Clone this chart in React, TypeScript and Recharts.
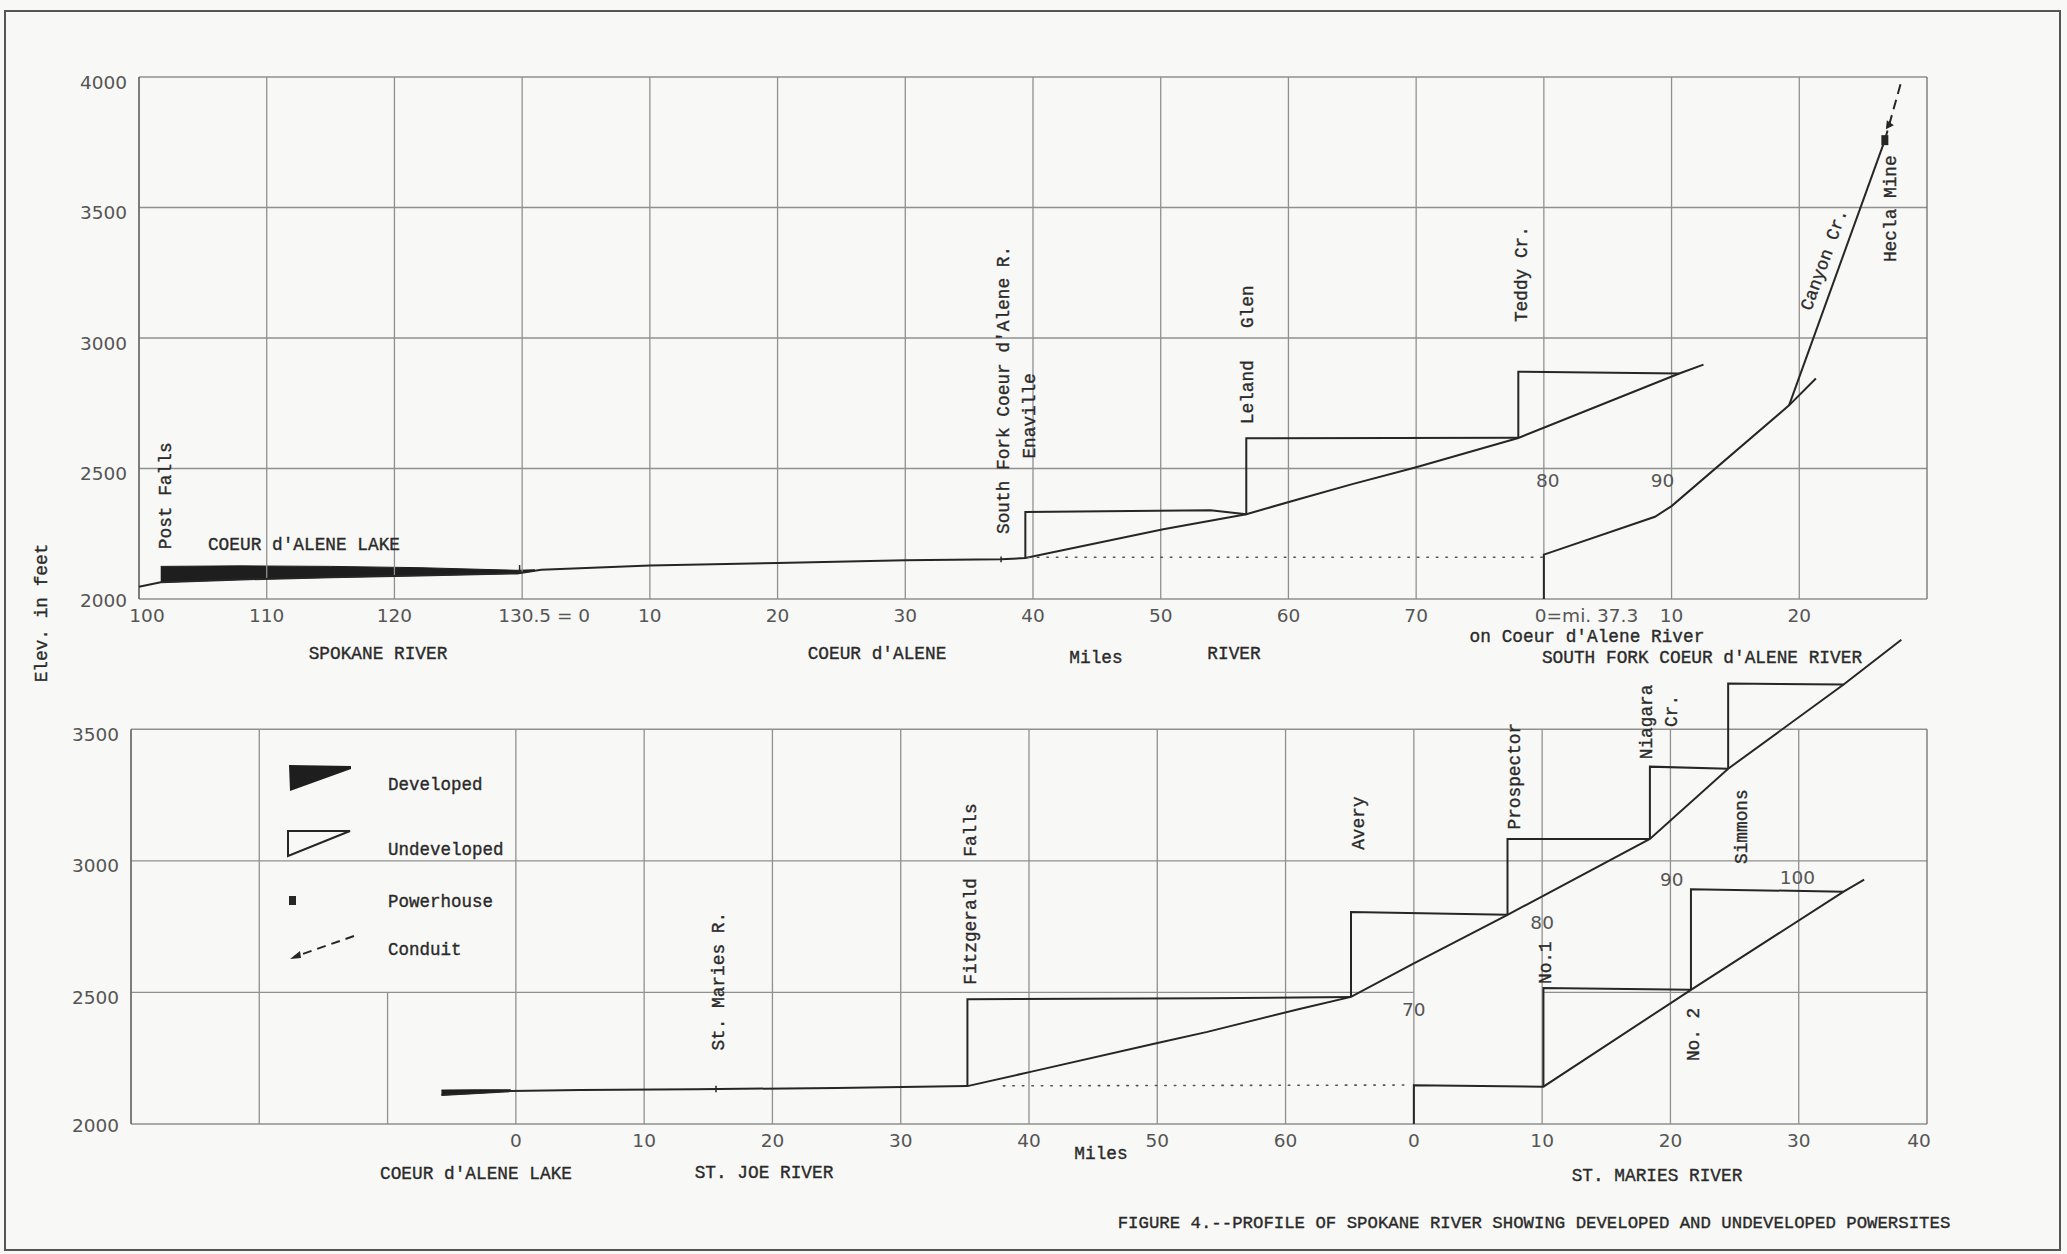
import React from 'react';
import { Area, ComposedChart, Legend, Line, ReferenceDot, ReferenceLine, Scatter, XAxis, YAxis } from 'recharts';

const MONO = '"Liberation Mono", "DejaVu Sans Mono", monospace';
const LETTER = '"DejaVu Sans", "Open Sans", sans-serif';
const INK = '#262626';
const TEXT = '#2a2a2a';
const GRID = '#909090';
const NUM = '#555';

// x = chart position in tenths of a grid square (one square = 10 miles), y = elevation in feet

// upper panel: Spokane R. mi 100-130.5, Coeur d'Alene R. from the lake, South Fork from mi 37.3
const topXTicks = [0, 10, 20, 30, 40, 50, 60, 70, 80, 90, 100, 110, 120, 130];
const topXLabels = ['100', '110', '120', '130.5 = 0', '10', '20', '30', '40', '50', '60', '70', '0=mi. 37.3', '10', '20'];
const topYTicks = [2000, 2500, 3000, 3500, 4000];
const topGridX = [0, 10, 20, 30, 40, 50, 60, 70, 80, 90, 100, 110, 120, 130, 140];

const spokaneBed = [
  { x: 0, y: 2047 }, { x: 1.7, y: 2064 }, { x: 8, y: 2075 }, { x: 15, y: 2083 }, { x: 22, y: 2090 },
  { x: 29.6, y: 2098 }, { x: 31.5, y: 2112 }, { x: 40, y: 2128 }, { x: 50, y: 2138 }, { x: 60, y: 2148 },
  { x: 67.5, y: 2152 }, { x: 69.4, y: 2157 }, { x: 80.2, y: 2267 }, { x: 86.7, y: 2325 }, { x: 91, y: 2385 },
  { x: 95, y: 2440 }, { x: 100, y: 2505 }, { x: 108, y: 2617 }, { x: 120.6, y: 2864 }, { x: 122.5, y: 2898 },
];
const postFallsPool = [
  { x: 1.7, r: [2064, 2125] }, { x: 8, r: [2075, 2127] }, { x: 15, r: [2083, 2125] },
  { x: 22, r: [2090, 2120] }, { x: 29.6, r: [2098, 2110] }, { x: 31, r: [2108, 2112] },
];
const enavillePool = [{ x: 69.4, y: 2157 }, { x: 69.4, y: 2333 }, { x: 83.9, y: 2340 }, { x: 86.7, y: 2325 }];
const lelandGlenPool = [{ x: 86.7, y: 2325 }, { x: 86.7, y: 2616 }, { x: 108, y: 2618 }];
const teddyCrPool = [{ x: 108, y: 2617 }, { x: 108, y: 2871 }, { x: 120.6, y: 2864 }];
const southForkBed = [
  { x: 110, y: 2000 }, { x: 110, y: 2170 }, { x: 118.7, y: 2315 }, { x: 120, y: 2356 },
  { x: 129.2, y: 2742 }, { x: 131.3, y: 2845 },
];
const canyonCr = [{ x: 129.2, y: 2742 }, { x: 136.7, y: 3758 }];
const heclaConduit = [{ x: 136.7, y: 3758 }, { x: 138, y: 3985 }];
const heclaPowerhouse = [{ x: 136.7, y: 3758 }];
const southForkDatum = [{ x: 69.6, y: 2160 }, { x: 110, y: 2160 }];

const topSites = [
  { t: 'Post Falls', x: 2.1, y: 2191 },
  { t: "South Fork Coeur d'Alene R.", x: 67.7, y: 2249 },
  { t: 'Enaville', x: 69.8, y: 2538 },
  { t: 'Leland   Glen', x: 86.8, y: 2670 },
  { t: 'Teddy Cr.', x: 108.3, y: 3061 },
  { t: 'Hecla Mine', x: 137.2, y: 3291 },
];
const topInnerMiles = [{ t: '80', x: 110.3, y: 2455 }, { t: '90', x: 119.3, y: 2455 }];

// lower panel: Coeur d'Alene Lake, St. Joe R., St. Maries R.
const bottomXTicks = [30, 40, 50, 60, 70, 80, 90, 100, 110, 120, 130, 140];
const bottomXLabels = ['0', '10', '20', '30', '40', '50', '60', '0', '10', '20', '30', '40'];
const bottomYTicks = [2000, 2500, 3000, 3500];
const bottomGridX = [0, 10, 30, 40, 50, 60, 70, 80, 90, 100, 110, 120, 130, 140];

const stJoeBed = [
  { x: 24.2, y: 2110 }, { x: 29.6, y: 2125 }, { x: 35, y: 2129 }, { x: 44, y: 2132 }, { x: 55, y: 2137 },
  { x: 65.2, y: 2144 }, { x: 70.2, y: 2199 }, { x: 80.1, y: 2309 }, { x: 83.9, y: 2350 }, { x: 91, y: 2436 },
  { x: 95.1, y: 2483 }, { x: 100, y: 2610 }, { x: 107.3, y: 2795 }, { x: 118.4, y: 3083 }, { x: 124.5, y: 3350 },
  { x: 133.5, y: 3670 }, { x: 138, y: 3840 },
];
const lakePool = [{ x: 24.2, r: [2110, 2129] }, { x: 27, r: [2117, 2130] }, { x: 29.6, r: [2125, 2130] }];
const fitzgeraldPool = [{ x: 65.2, y: 2144 }, { x: 65.2, y: 2474 }, { x: 84, y: 2478 }, { x: 95.1, y: 2483 }];
const averyPool = [{ x: 95.1, y: 2483 }, { x: 95.1, y: 2806 }, { x: 107.3, y: 2795 }];
const prospectorPool = [{ x: 107.3, y: 2795 }, { x: 107.3, y: 3083 }, { x: 118.4, y: 3083 }];
const niagaraPool = [{ x: 118.4, y: 3083 }, { x: 118.4, y: 3358 }, { x: 124.5, y: 3350 }];
const simmonsPool = [{ x: 124.5, y: 3350 }, { x: 124.5, y: 3674 }, { x: 133.5, y: 3670 }];
const stMariesBed = [
  { x: 100, y: 2000 }, { x: 100, y: 2147 }, { x: 110.1, y: 2142 }, { x: 121.6, y: 2510 },
  { x: 133.5, y: 2883 }, { x: 135.1, y: 2929 },
];
const no1Pool = [{ x: 110.1, y: 2142 }, { x: 110.1, y: 2517 }, { x: 121.6, y: 2510 }];
const no2Pool = [{ x: 121.6, y: 2510 }, { x: 121.6, y: 2892 }, { x: 133.5, y: 2883 }];
const stMariesDatum = [{ x: 68, y: 2145 }, { x: 99.5, y: 2148 }];

const bottomSites = [
  { t: 'St. Maries R.', x: 45.8, y: 2279 },
  { t: 'Fitzgerald  Falls', x: 65.5, y: 2529 },
  { t: 'Avery', x: 95.7, y: 3042 },
  { t: 'Prospector', x: 107.9, y: 3119 },
  { t: 'Niagara', x: 118.2, y: 3386 },
  { t: 'Cr.', x: 120.1, y: 3509 },
  { t: 'Simmons', x: 125.6, y: 2988 },
  { t: 'No.1', x: 110.3, y: 2532 },
  { t: 'No. 2', x: 121.8, y: 2239 },
];
const bottomInnerMiles = [
  { t: '70', x: 100, y: 2435 }, { t: '80', x: 110, y: 2764 },
  { t: '90', x: 120.1, y: 2929 }, { t: '100', x: 129.9, y: 2937 },
];

const lineProps = { type: 'linear' as const, dataKey: 'y', stroke: INK, strokeWidth: 2, dot: false, activeDot: false, isAnimationActive: false };

const SiteText = ({ cx, cy, text, angle = -90, anchor = 'start' }: any) => (
  <text x={cx} y={cy} transform={`rotate(${angle} ${cx} ${cy})`} textAnchor={anchor} dominantBaseline="central"
    fontFamily={MONO} fontSize={17.8} fill={TEXT} stroke={TEXT} strokeWidth={0.35} style={{ whiteSpace: 'pre' }}>
    {text}
  </text>
);

const MileText = ({ cx, cy, text }: any) => (
  <text x={cx} y={cy} textAnchor="middle" dominantBaseline="central" fontFamily={LETTER} fontSize={18.5} fill={NUM}>
    {text}
  </text>
);

const makeXTick = (ticks: number[], labels: string[], firstShift = 0) => (props: any) => {
  const { x, y, payload } = props;
  const label = labels[ticks.indexOf(payload.value)] ?? '';
  let anchor = 'middle';
  let dx = 0;
  if (payload.value === ticks[0]) dx = firstShift;
  if (label === '130.5 = 0') { anchor = 'start'; dx = -24; }
  if (label === '0=mi. 37.3') { anchor = 'start'; dx = -9; }
  if (payload.value === 140) dx = -8;
  return (
    <text x={x + dx} y={y + 16} textAnchor={anchor} dominantBaseline="central" fontFamily={LETTER} fontSize={18.5} fill={NUM}>
      {label}
    </text>
  );
};

const YTick = (props: any) => (
  <text x={props.x} y={props.y + (props.payload.value === 2000 ? 1 : 5)} textAnchor="end" dominantBaseline="central"
    fontFamily={LETTER} fontSize={18.5} fill={NUM}>
    {props.payload.value}
  </text>
);

const PowerhouseShape = (p: any) => (
  <g>
    <rect x={p.cx - 3.5} y={p.cy - 5} width={7} height={10} fill={INK} />
    <path d={`M ${p.cx + 2} ${p.cy - 20} L ${p.cx + 9} ${p.cy - 15} L ${p.cx + 1} ${p.cy - 11} Z`} fill={INK} />
  </g>
);

const LegendBox = () => (
  <div style={{ position: 'relative', width: 260, height: 220 }}>
    <svg width={260} height={220} style={{ position: 'absolute', left: 0, top: 0 }}>
      <polygon points="9,10 71,11 71,14 10,36" fill="#1e1e1e" />
      <polygon points="8,76 70,76 8,101" fill="none" stroke={INK} strokeWidth={2} />
      <rect x={9} y={141} width={7} height={9} fill={INK} />
      <line x1={74} y1={181} x2={14} y2={202} stroke={INK} strokeWidth={2} strokeDasharray="9 6" />
      <path d="M 10 204 L 20 196 L 21 203 Z" fill={INK} />
      {[['Developed', 30], ['Undeveloped', 95], ['Powerhouse', 147], ['Conduit', 195]].map(([t, y]) => (
        <text key={t as string} x={108} y={y as number} dominantBaseline="central" fontFamily={MONO} fontSize={17.5}
          fill={TEXT} stroke={TEXT} strokeWidth={0.35}>
          {t}
        </text>
      ))}
    </svg>
  </div>
);

const pageText = (t: string, x: number, y: number, size = 17.8) => (
  <div key={t + x} style={{
    position: 'absolute', left: x, top: y, transform: 'translate(-50%, -50%)', fontFamily: MONO,
    fontSize: size, color: TEXT, whiteSpace: 'pre', lineHeight: 1, WebkitTextStroke: '0.35px #2a2a2a',
  }}>{t}</div>
);

export default function App() {
  return (
    <div style={{ position: 'absolute', left: 0, top: 0, width: 2067, height: 1254, background: '#f8f8f6', overflow: 'hidden' }}>
      <div style={{ position: 'absolute', left: 4, top: 10, width: 2053, height: 1237, border: '2px solid #555' }} />

      {/* upper profile */}
      <div style={{ position: 'absolute', left: 0, top: 0 }}>
        <ComposedChart width={2067} height={700} margin={{ top: 77, right: 140, bottom: 71, left: 79 }}>
          <XAxis type="number" dataKey="x" domain={[0, 140]} ticks={topXTicks} interval={0} height={30}
            axisLine={false} tickLine={false} tickSize={0} tickMargin={0} tick={makeXTick(topXTicks, topXLabels, 8)} />
          <YAxis type="number" domain={[2000, 4000]} ticks={topYTicks} interval={0} width={60}
            axisLine={false} tickLine={false} tickSize={0} tickMargin={12} tick={<YTick />} />
          {topYTicks.map((v) => <ReferenceLine key={'h' + v} y={v} stroke={GRID} strokeWidth={1.3} />)}
          {topGridX.map((v) => (
            <ReferenceLine key={'v' + v} x={v} stroke={v === 0 || v === 140 ? '#6f6f6f' : GRID} strokeWidth={v === 0 ? 1.8 : 1.3} />
          ))}
          <Area data={postFallsPool} dataKey="r" type="linear" stroke="#1e1e1e" strokeWidth={1} fill="#1e1e1e" fillOpacity={1} isAnimationActive={false} dot={false} activeDot={false} />
          <Line data={spokaneBed} {...lineProps} />
          <Line data={enavillePool} {...lineProps} />
          <Line data={lelandGlenPool} {...lineProps} />
          <Line data={teddyCrPool} {...lineProps} />
          <Line data={southForkBed} {...lineProps} />
          <Line data={canyonCr} {...lineProps} />
          <Line data={heclaConduit} {...lineProps} strokeDasharray="10 6" />
          <Line data={southForkDatum} {...lineProps} stroke="#555" strokeWidth={1.6} strokeDasharray="1.5 8" strokeLinecap="round" />
          <Scatter data={heclaPowerhouse} dataKey="y" shape={PowerhouseShape} isAnimationActive={false} />
          <ReferenceLine segment={[{ x: 67.5, y: 2141 }, { x: 67.5, y: 2163 }]} stroke={INK} strokeWidth={1.5} />
          <ReferenceLine segment={[{ x: 29.8, y: 2096 }, { x: 29.8, y: 2130 }]} stroke={INK} strokeWidth={1.5} />
          {topSites.map((s) => (
            <ReferenceDot key={s.t} x={s.x} y={s.y} r={1} shape={(p: any) => <SiteText cx={p.cx} cy={p.cy} text={s.t} />} />
          ))}
          <ReferenceDot x={5.4} y={2206} r={1}
            shape={(p: any) => <SiteText cx={p.cx} cy={p.cy} text="COEUR d'ALENE LAKE" angle={0} />} />
          <ReferenceDot x={132.6} y={3300} r={1}
            shape={(p: any) => <SiteText cx={p.cx - 8} cy={p.cy} text="Canyon Cr." angle={-70} anchor="middle" />} />
          {topInnerMiles.map((m) => (
            <ReferenceDot key={'m' + m.t} x={m.x} y={m.y} r={1} shape={(p: any) => <MileText cx={p.cx} cy={p.cy} text={m.t} />} />
          ))}
        </ComposedChart>
      </div>

      {/* lower profile */}
      <div style={{ position: 'absolute', left: 0, top: 0 }}>
        <ComposedChart width={2067} height={1254} margin={{ top: 624, right: 140, bottom: 100, left: 71 }}>
          <XAxis type="number" dataKey="x" domain={[0, 140]} ticks={bottomXTicks} interval={0} height={30}
            axisLine={false} tickLine={false} tickSize={0} tickMargin={0} tick={makeXTick(bottomXTicks, bottomXLabels)} />
          <YAxis type="number" domain={[2000, 3900]} ticks={bottomYTicks} interval={0} width={60}
            axisLine={false} tickLine={false} tickSize={0} tickMargin={12} tick={<YTick />} />
          {bottomYTicks.filter((v) => v !== 2500).map((v) => (
            <ReferenceLine key={'h' + v} segment={[{ x: 0, y: v }, { x: 140, y: v }]} stroke={GRID} strokeWidth={1.3} />
          ))}
          <ReferenceLine segment={[{ x: 0, y: 2500 }, { x: 100, y: 2500 }]} stroke={GRID} strokeWidth={1.3} />
          <ReferenceLine segment={[{ x: 110, y: 2500 }, { x: 140, y: 2500 }]} stroke={GRID} strokeWidth={1.3} />
          {bottomGridX.map((v) => (
            <ReferenceLine key={'v' + v} segment={[{ x: v, y: 2000 }, { x: v, y: 3500 }]}
              stroke={v === 0 || v === 140 ? '#6f6f6f' : GRID} strokeWidth={v === 0 ? 1.8 : 1.3} />
          ))}
          <ReferenceLine segment={[{ x: 20, y: 2000 }, { x: 20, y: 2500 }]} stroke={GRID} strokeWidth={1.3} />
          <Area data={lakePool} dataKey="r" type="linear" stroke="#1e1e1e" strokeWidth={1} fill="#1e1e1e" fillOpacity={1} isAnimationActive={false} dot={false} activeDot={false} />
          <Line data={stJoeBed} {...lineProps} />
          <Line data={fitzgeraldPool} {...lineProps} />
          <Line data={averyPool} {...lineProps} />
          <Line data={prospectorPool} {...lineProps} />
          <Line data={niagaraPool} {...lineProps} />
          <Line data={simmonsPool} {...lineProps} />
          <Line data={stMariesBed} {...lineProps} />
          <Line data={no1Pool} {...lineProps} />
          <Line data={no2Pool} {...lineProps} />
          <Line data={stMariesDatum} {...lineProps} stroke="#555" strokeWidth={1.6} strokeDasharray="1.5 8" strokeLinecap="round" />
          <ReferenceLine segment={[{ x: 45.6, y: 2121 }, { x: 45.6, y: 2145 }]} stroke={INK} strokeWidth={1.5} />
          {bottomSites.map((s) => (
            <ReferenceDot key={s.t} x={s.x} y={s.y} r={1} shape={(p: any) => <SiteText cx={p.cx} cy={p.cy} text={s.t} />} />
          ))}
          {bottomInnerMiles.map((m) => (
            <ReferenceDot key={'m' + m.t} x={m.x} y={m.y} r={1} shape={(p: any) => <MileText cx={p.cx} cy={p.cy} text={m.t} />} />
          ))}
          <Legend layout="vertical" align="center" verticalAlign="middle" content={() => <LegendBox />}
            wrapperStyle={{ left: 280, top: 755, width: 260, height: 220 }} />
        </ComposedChart>
      </div>

      {pageText('SPOKANE RIVER', 378, 655)}
      {pageText("COEUR d'ALENE", 877, 655)}
      {pageText('Miles', 1096, 659)}
      {pageText('RIVER', 1234, 655)}
      {pageText("on Coeur d'Alene River", 1587, 638)}
      {pageText("SOUTH FORK COEUR d'ALENE RIVER", 1702, 659)}
      {pageText("COEUR d'ALENE LAKE", 476, 1175)}
      {pageText('ST. JOE RIVER', 764, 1174)}
      {pageText('Miles', 1101, 1155)}
      {pageText('ST. MARIES RIVER', 1657, 1177)}
      {pageText('FIGURE 4.--PROFILE OF SPOKANE RIVER SHOWING DEVELOPED AND UNDEVELOPED POWERSITES', 1534, 1224, 17.35)}
      <div style={{
        position: 'absolute', left: 43, top: 613, transform: 'translate(-50%, -50%) rotate(-90deg)',
        fontFamily: MONO, fontSize: 17.8, color: TEXT, whiteSpace: 'pre', lineHeight: 1, WebkitTextStroke: '0.35px #2a2a2a',
      }}>Elev. in feet</div>
    </div>
  );
}
